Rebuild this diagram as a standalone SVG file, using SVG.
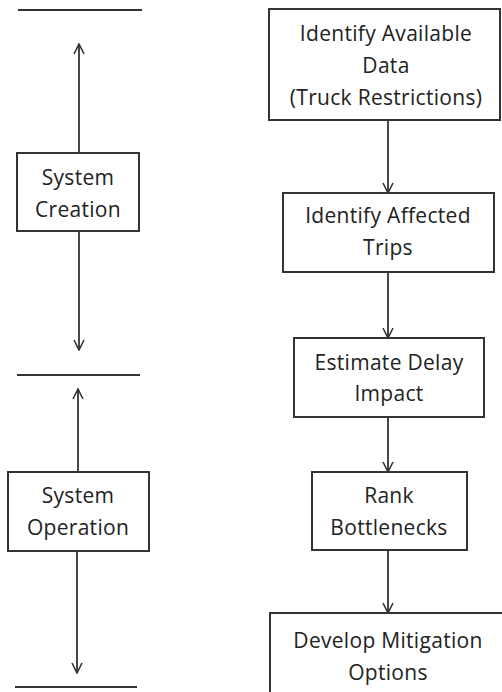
<svg xmlns="http://www.w3.org/2000/svg" width="502" height="692" viewBox="0 0 502 692">
<defs>
<marker id="arr" viewBox="0 0 12 12" refX="11" refY="6" markerWidth="12" markerHeight="12" markerUnits="userSpaceOnUse" orient="auto">
<path d="M1,1 L11,6 L1,11" fill="none" stroke="#333" stroke-width="1.6"/>
</marker>
<style>
.box{fill:#fff;stroke:#333;stroke-width:2}
.t{font-family:"Open Sans","Liberation Sans",sans-serif;font-size:21px;letter-spacing:0.3px;fill:#222;text-anchor:middle}
.c{stroke:#333;stroke-width:1.8;fill:none}
.l{stroke:#333;stroke-width:2}
</style>
</defs>
<rect width="502" height="692" fill="#fff"/>
<g id="connectors">
<line class="l" x1="18" y1="10" x2="142" y2="10"/>
<line class="l" x1="17" y1="375" x2="140" y2="375"/>
<line class="l" x1="15" y1="687" x2="137" y2="687"/>
<line class="c" x1="79" y1="153" x2="79" y2="44" marker-end="url(#arr)"/>
<line class="c" x1="79" y1="231" x2="79" y2="350" marker-end="url(#arr)"/>
<line class="c" x1="78" y1="472" x2="78" y2="389" marker-end="url(#arr)"/>
<line class="c" x1="77" y1="551" x2="77" y2="673" marker-end="url(#arr)"/>
<line class="c" x1="388" y1="120" x2="388" y2="193" marker-end="url(#arr)"/>
<line class="c" x1="388" y1="272" x2="388" y2="338" marker-end="url(#arr)"/>
<line class="c" x1="388" y1="417" x2="388" y2="472" marker-end="url(#arr)"/>
<line class="c" x1="388" y1="550" x2="388" y2="613" marker-end="url(#arr)"/>
</g>
<g id="system-creation">
<rect class="box" x="17" y="153" width="122" height="78"/>
<text class="t" x="78" y="185">System</text>
<text class="t" x="78" y="217">Creation</text>
</g>
<g id="system-operation">
<rect class="box" x="8" y="472" width="141" height="79"/>
<text class="t" x="78" y="503">System</text>
<text class="t" x="78" y="535">Operation</text>
</g>
<g id="identify-data">
<rect class="box" x="269" y="9" width="231" height="111"/>
<text class="t" x="386" y="41">Identify Available</text>
<text class="t" x="386" y="73">Data</text>
<text class="t" x="386" y="105">(Truck Restrictions)</text>
</g>
<g id="identify-trips">
<rect class="box" x="283" y="193" width="211" height="79"/>
<text class="t" x="388" y="223">Identify Affected</text>
<text class="t" x="388" y="255">Trips</text>
</g>
<g id="estimate-delay">
<rect class="box" x="294" y="338" width="190" height="79"/>
<text class="t" x="389" y="370">Estimate Delay</text>
<text class="t" x="389" y="401">Impact</text>
</g>
<g id="rank-bottlenecks">
<rect class="box" x="312" y="472" width="155" height="78"/>
<text class="t" x="389" y="503">Rank</text>
<text class="t" x="389" y="535">Bottlenecks</text>
</g>
<g id="develop-mitigation">
<rect class="box" x="270" y="613" width="240" height="90"/>
<text class="t" x="388" y="648">Develop Mitigation</text>
<text class="t" x="388" y="680">Options</text>
</g>
</svg>
